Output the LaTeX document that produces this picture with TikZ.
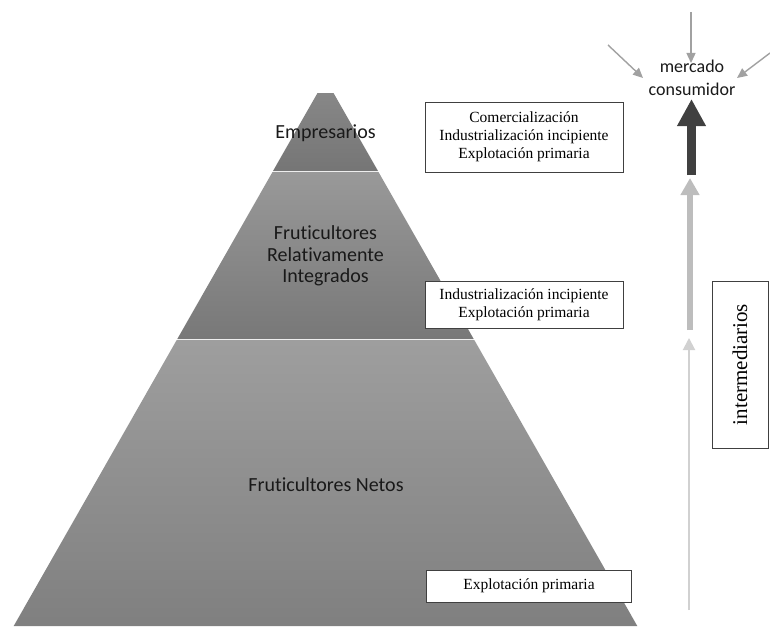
\documentclass[tikz,border=0pt]{standalone}
\usepackage{fontspec}
\setmainfont{Liberation Serif}
\newfontfamily\calib[Ligatures=NoCommon]{Carlito}
\usetikzlibrary{arrows.meta}
\begin{document}
\begin{tikzpicture}[x=1pt,y=-1pt,
  tierlabel/.style={font=\calib\fontsize{20}{21.5}\selectfont, text=black!90, align=center, inner sep=0pt},
  infobox/.style={draw=black!75, line width=0.9pt, fill=white, font=\fontsize{15.5}{18}\selectfont, align=center, inner sep=0pt},
  feed/.style={draw=black!37, line width=1.4pt, -{Triangle[length=10pt,width=9pt]}},
]
\useasboundingbox (0,0) rectangle (770,626);
% pyramid tiers
\shade[top color=black!47, bottom color=black!54] (317.5,93) -- (333.5,93) -- (378,171) -- (273,171) -- cycle;
\shade[top color=black!40, bottom color=black!53] (272.5,172) -- (378.5,172) -- (473.7,339) -- (177.3,339) -- cycle;
\shade[top color=black!38, bottom color=black!50] (176.7,340) -- (474.3,340) -- (637.3,626) -- (13.7,626) -- cycle;
% tier labels
\node[tierlabel, anchor=base] (emp) at (325.5,138) {Empresarios};
\node[tierlabel] (rel) at (325.5,256) {Fruticultores\\Relativamente\\Integrados};
\node[tierlabel, anchor=base] (net) at (326,491) {Fruticultores Netos};
% info boxes
\node[infobox, minimum width=198, minimum height=70] (b1) at (524,137) {Comercialización\\Industrialización incipiente\\Explotación primaria};
\node[infobox, minimum width=198, minimum height=47] (b2) at (524,304.5) {Industrialización incipiente\\Explotación primaria};
\node[infobox, minimum width=205, minimum height=32] (b3) at (529,586) {Explotación primaria};
\node[infobox, font=\fontsize{21}{24}\selectfont, rotate=90, minimum width=167, minimum height=56] (inter) at (740,364.5) {intermediarios};
% market
\node[font=\calib\fontsize{18}{23}\selectfont, align=center, inner sep=3pt, text=black!90] (mercado) at (692,78) {mercado\\consumidor};
% vertical arrows
\coordinate (thinbase) at (689,610);
\coordinate (thintip) at (689,338);
\coordinate (midbase) at (690,330);
\coordinate (midtip) at (690,178);
\coordinate (darkbase) at (691.5,175);
\draw[draw=black!18, line width=2pt, -{Triangle[length=12pt,width=12pt]}] (thinbase) -- (thintip);
\draw[draw=black!26, line width=5.5pt, -{Triangle[length=17pt,width=18pt]}] (midbase) -- (midtip);
\draw[draw=black!75, line width=9.5pt, -{Triangle[length=27pt,width=27pt]}] (darkbase) -- (darkbase |- mercado.south);
% feeding arrows
\coordinate (ftop) at (691,12);
\coordinate (ftoptip) at (691,63);
\coordinate (fleft) at (608,45);
\coordinate (flefttip) at (643,78);
\coordinate (fright) at (770,53);
\coordinate (frighttip) at (737,78);
\draw[feed] (ftop) -- (ftoptip);
\draw[feed] (fleft) -- (flefttip);
\draw[feed] (fright) -- (frighttip);
\end{tikzpicture}
\end{document}
